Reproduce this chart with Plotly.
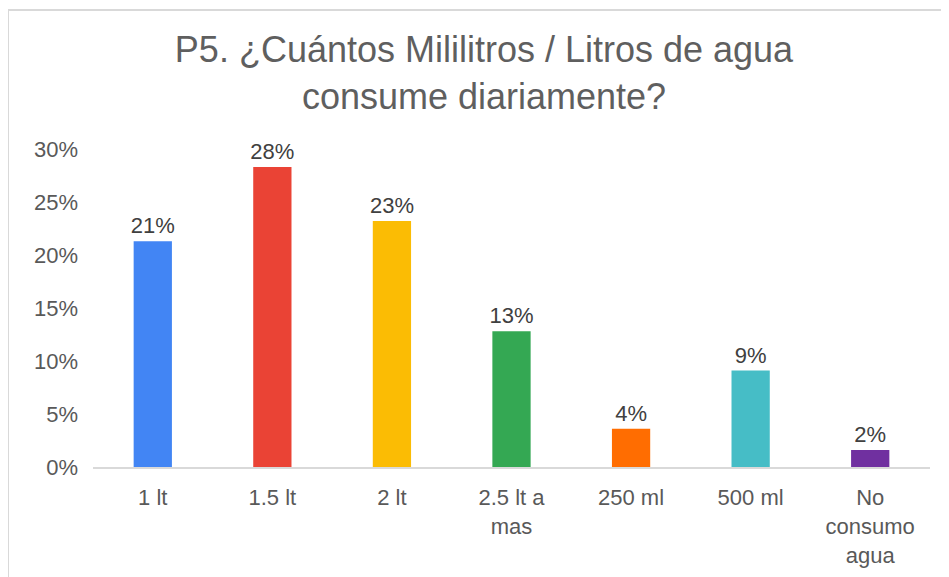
import plotly.graph_objects as go

categories = ['1 lt', '1.5 lt', '2 lt', '2.5 lt a<br>mas', '250 ml', '500 ml', 'No<br>consumo<br>agua']
values = [21.3, 28.3, 23.2, 12.8, 3.6, 9.1, 1.6]
colors = ['#4285f4', '#ea4335', '#fbbc04', '#34a853', '#ff6d01', '#46bdc6', '#7030a0']
y_ticks = [0, 5, 10, 15, 20, 25, 30]
y_tick_labels = ['0%', '5%', '10%', '15%', '20%', '25%', '30%']

fig = go.Figure()
fig.add_trace(go.Bar(
    x=categories,
    y=values,
    marker=dict(color=colors, line=dict(width=0)),
    texttemplate='%{y:.0f}%',
    textposition='outside',
    constraintext='none',
    textfont=dict(size=22, color='#404040'),
    cliponaxis=False,
))

# page body has an 8px margin, so the figure is nudged up/left by 8px
fig.update_layout(
    width=949,
    height=577,
    margin=dict(l=85, r=27, t=141, b=118),
    paper_bgcolor='white',
    plot_bgcolor='white',
    font=dict(family='Liberation Sans, Arial, sans-serif', color='#595959'),
    title=dict(
        text='P5. ¿Cuántos Mililitros / Litros de agua<br>consume diariamente?',
        x=476 / 949, xanchor='center',
        y=0.906, yanchor='top',
        font=dict(size=36, color='#5f5f5f'),
    ),
    bargap=0.68,
    showlegend=False,
    xaxis=dict(
        automargin=False,
        showgrid=False,
        showline=True,
        linecolor='#d9d9d9',
        linewidth=2,
        ticks='',
        tickfont=dict(size=22, color='#595959'),
        ticklabelstandoff=10,
    ),
    yaxis=dict(
        automargin=False,
        range=[0, 30],
        tickvals=y_ticks,
        ticktext=y_tick_labels,
        showgrid=False,
        zeroline=False,
        showline=False,
        tickfont=dict(size=22, color='#595959'),
        ticklabelstandoff=14,
    ),
    shapes=[dict(
        type='rect', xref='paper', yref='paper',
        x0=-85 / 837, x1=1.2, y0=-0.6, y1=457 / 318,
        line=dict(color='#d9d9d9', width=2),
        fillcolor='rgba(0,0,0,0)',
        layer='below',
    )],
)

fig.write_html('out.html')
